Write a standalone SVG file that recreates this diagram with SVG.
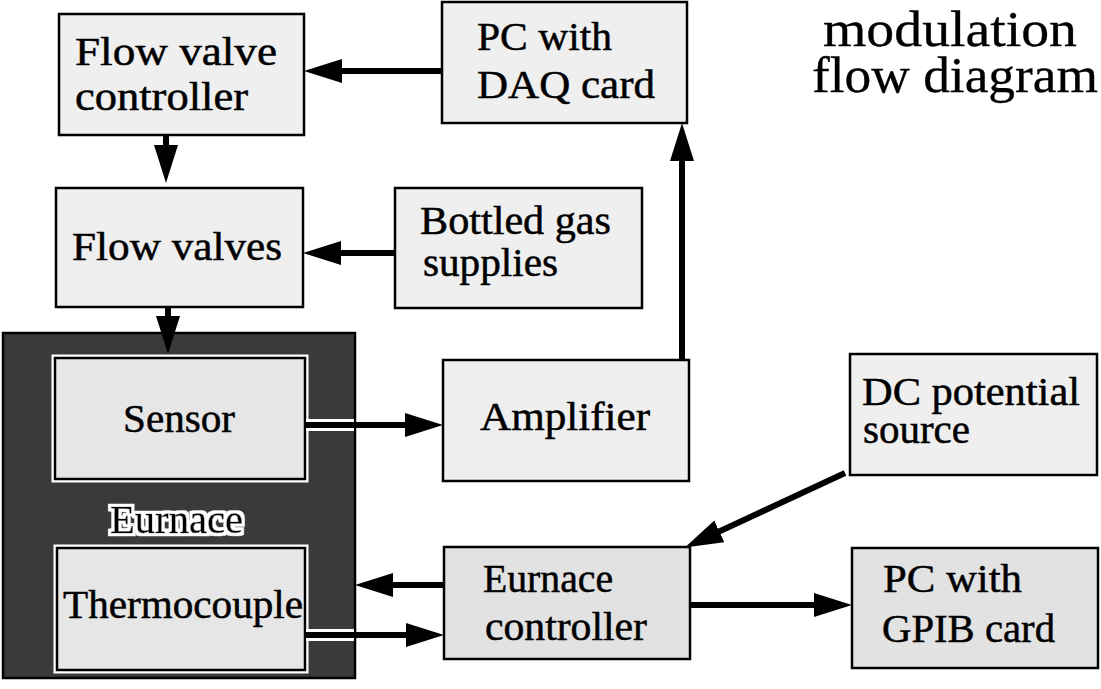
<svg xmlns="http://www.w3.org/2000/svg" width="1101" height="689" viewBox="0 0 1101 689">
<style>
text{font-family:"Liberation Serif","Times New Roman",serif;fill:#000;stroke:#000;stroke-width:0.5}
.t{font-size:40px}
.b{font-size:40px}
.title{font-size:50px;stroke-width:0.3}
.box{fill:#efefef;stroke:#000;stroke-width:2.5}
.box2{fill:#e2e2e2;stroke:#000;stroke-width:2.5}
.inner{fill:#e6e6e6;stroke:#000;stroke-width:2.5}
.halo{fill:none;stroke:#fff;stroke-width:7}
.conn{stroke:#000;stroke-width:6;fill:none}
.case{stroke:#fff;stroke-width:12;fill:none}
</style>
<defs>
<marker id="ah" viewBox="0 0 38 24" refX="18" refY="12" markerWidth="38" markerHeight="24" markerUnits="userSpaceOnUse" orient="auto">
<path d="M0,0 L38,12 L0,24 Z" fill="#000"/>
</marker>
<filter id="whitehalo" x="-10%" y="-30%" width="120%" height="160%">
<feMorphology in="SourceAlpha" operator="dilate" radius="3" result="d"/>
<feFlood flood-color="#fff"/>
<feComposite in2="d" operator="in"/>
<feMerge><feMergeNode/><feMergeNode in="SourceGraphic"/></feMerge>
</filter>
</defs>
<rect width="1101" height="689" fill="#fff"/>

<g id="title">
<text class="title" x="823" y="46" textLength="254" lengthAdjust="spacingAndGlyphs">modulation</text>
<text class="title" x="812" y="92" textLength="286" lengthAdjust="spacingAndGlyphs">flow diagram</text>
</g>

<g id="flow-valve-controller">
<rect class="box" x="59" y="14" width="245" height="121"/>
<text class="t" x="75" y="65" textLength="202" lengthAdjust="spacingAndGlyphs">Flow valve</text>
<text class="t" x="75" y="110" textLength="173" lengthAdjust="spacingAndGlyphs">controller</text>
</g>

<g id="pc-daq">
<rect class="box" x="442" y="2" width="245" height="121"/>
<text class="t" x="477" y="50" textLength="135" lengthAdjust="spacingAndGlyphs">PC with</text>
<text class="t" x="477" y="98" textLength="178" lengthAdjust="spacingAndGlyphs">DAQ card</text>
</g>

<g id="flow-valves">
<rect class="box" x="56" y="188" width="247" height="119"/>
<text class="t" x="72" y="260" textLength="210" lengthAdjust="spacingAndGlyphs">Flow valves</text>
</g>

<g id="bottled-gas">
<rect class="box" x="395" y="188" width="247" height="120"/>
<text class="t" x="420" y="234" textLength="191" lengthAdjust="spacingAndGlyphs">Bottled gas</text>
<text class="t" x="423" y="276" textLength="135" lengthAdjust="spacingAndGlyphs">supplies</text>
</g>

<g id="furnace">
<rect x="3" y="333" width="352" height="345" fill="#3a3a3a" stroke="#000" stroke-width="2.5"/>
<text class="b" x="110" y="533" textLength="133" lengthAdjust="spacingAndGlyphs" filter="url(#whitehalo)">Eurnace</text>
</g>

<g id="sensor">
<rect class="halo" x="55" y="358" width="250" height="121"/>
<rect class="inner" x="55" y="358" width="250" height="121"/>
<text class="b" x="123" y="432" textLength="112" lengthAdjust="spacingAndGlyphs">Sensor</text>
</g>

<g id="thermocouple">
<rect class="halo" x="57" y="548" width="248" height="122"/>
<rect class="inner" x="57" y="548" width="248" height="122"/>
<text class="b" x="63" y="618" textLength="240" lengthAdjust="spacingAndGlyphs">Thermocouple</text>
</g>

<g id="amplifier">
<rect class="box" x="443" y="360" width="246" height="121"/>
<text class="b" x="480" y="430" textLength="170" lengthAdjust="spacingAndGlyphs">Amplifier</text>
</g>

<g id="dc-source">
<rect class="box" x="850" y="354" width="247" height="121"/>
<text class="b" x="862" y="405" textLength="218" lengthAdjust="spacingAndGlyphs">DC potential</text>
<text class="b" x="863" y="443" textLength="107" lengthAdjust="spacingAndGlyphs">source</text>
</g>

<g id="furnace-controller">
<rect class="box2" x="444" y="547" width="246" height="112"/>
<text class="b" x="483" y="592" textLength="130" lengthAdjust="spacingAndGlyphs">Eurnace</text>
<text class="b" x="485" y="640" textLength="162" lengthAdjust="spacingAndGlyphs">controller</text>
</g>

<g id="pc-gpib">
<rect class="box2" x="852" y="548" width="246" height="120"/>
<text class="b" x="883" y="592" textLength="139" lengthAdjust="spacingAndGlyphs">PC with</text>
<text class="b" x="882" y="642" textLength="173" lengthAdjust="spacingAndGlyphs">GPIB card</text>
</g>

<g id="connectors">
<line class="case" x1="306" y1="425" x2="354" y2="425"/>
<line class="case" x1="306" y1="635" x2="354" y2="635"/>
<line class="conn" x1="442" y1="71" x2="324" y2="71" marker-end="url(#ah)"/>
<line class="conn" x1="166" y1="135" x2="166" y2="163" marker-end="url(#ah)"/>
<line class="conn" x1="395" y1="253" x2="323" y2="253" marker-end="url(#ah)"/>
<line class="conn" x1="168" y1="307" x2="168" y2="334" marker-end="url(#ah)"/>
<line class="conn" x1="682" y1="360" x2="682" y2="143" marker-end="url(#ah)"/>
<line class="conn" x1="305" y1="425" x2="423" y2="425" marker-end="url(#ah)"/>
<line class="conn" x1="444" y1="585" x2="375" y2="585" marker-end="url(#ah)"/>
<line class="conn" x1="305" y1="635" x2="424" y2="635" marker-end="url(#ah)"/>
<line class="conn" x1="845" y1="473" x2="703" y2="539" marker-end="url(#ah)"/>
<line class="conn" x1="690" y1="605" x2="832" y2="605" marker-end="url(#ah)"/>
</g>
</svg>
